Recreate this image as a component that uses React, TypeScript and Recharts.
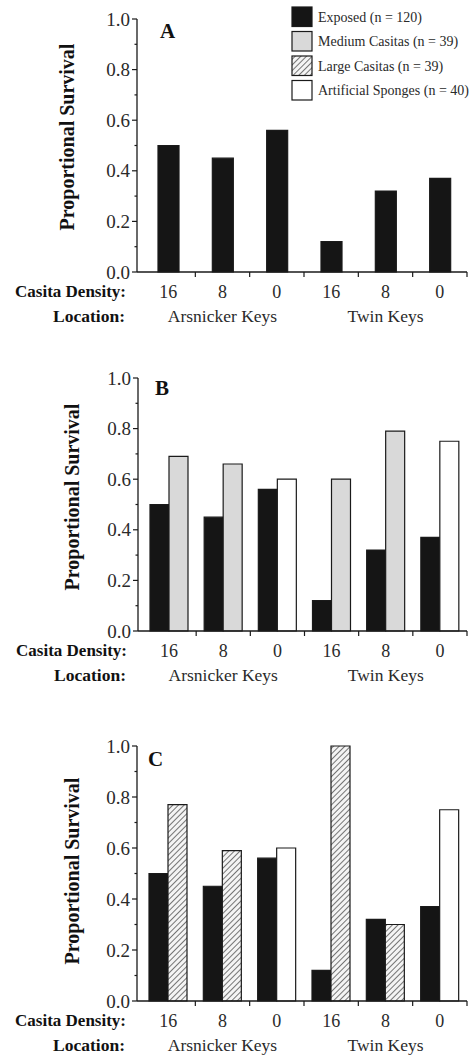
import React from 'react';
import { BarChart, Bar, XAxis, YAxis, Cell } from 'recharts';

// ---------- data ----------
const densities = ['16', '8', '0', '16', '8', '0'];
const locations = ['Arsnicker Keys', 'Arsnicker Keys', 'Arsnicker Keys', 'Twin Keys', 'Twin Keys', 'Twin Keys'];
const exposed = [0.5, 0.45, 0.56, 0.12, 0.32, 0.37];
const mediumCasitas = [0.69, 0.66, null, 0.6, 0.79, null];
const largeCasitas = [0.77, 0.59, null, 1.0, 0.3, null];
const artificialSponges = [null, null, 0.6, null, null, 0.75];
const yTicks = [0, 0.1, 0.2, 0.3, 0.4, 0.5, 0.6, 0.7, 0.8, 0.9, 1.0];
const legendLabels = ['Exposed (n = 120)', 'Medium Casitas (n = 39)', 'Large Casitas (n = 39)', 'Artificial Sponges (n = 40)'];
const legendKeys = ['exposed', 'medium', 'large', 'sponge'];

// ---------- style ----------
const FONT = "'Liberation Serif', 'DejaVu Serif', serif";
const INK = '#1a1a1a';
const FILLS: Record<string, string> = {
  exposed: '#151515',
  medium: '#d9d9d9',
  large: 'url(#hatch)',
  sponge: '#ffffff',
};
const PAD_LEFT = 4;

type Panel = {
  letter: string;
  top: number;
  height: number;
  marginTop: number;
  marginBottom: number;
  yWidth: number;
  letterX: number;
  letterY: number;
  labelX: number;
  labelY: number;
  second: (number | null)[] | null;
  legend: boolean;
};

const panels: Panel[] = [
  { letter: 'A', top: 0, height: 330, marginTop: 19, marginBottom: 8, yWidth: 137, letterX: 160, letterY: 38, labelX: 67, labelY: 137, second: null, legend: true },
  { letter: 'B', top: 330, height: 370, marginTop: 48, marginBottom: 19, yWidth: 138, letterX: 155, letterY: 65, labelX: 72, labelY: 167, second: mediumCasitas, legend: false },
  { letter: 'C', top: 700, height: 359, marginTop: 46, marginBottom: 8, yWidth: 137, letterX: 148, letterY: 66, labelX: 72, labelY: 171, second: largeCasitas, legend: false },
];

function buildData(second: (number | null)[] | null) {
  return densities.map((d, i) => {
    let treat: number | null = null;
    let kind = '';
    if (second) {
      if (second[i] != null) {
        treat = second[i];
        kind = second === mediumCasitas ? 'medium' : 'large';
      } else if (artificialSponges[i] != null) {
        treat = artificialSponges[i];
        kind = 'sponge';
      }
    }
    return { id: `${locations[i]}-${d}-${i}`, density: d, location: locations[i], exposed: exposed[i], treat, kind };
  });
}

function YTick(props: any) {
  const { x, y, payload } = props;
  const v = payload.value as number;
  const major = Math.round(v * 10) % 2 === 0;
  return (
    <g>
      <line x1={x - (major ? 5 : 2.5)} x2={x} y1={y} y2={y} stroke={INK} strokeWidth={1.2} />
      {major && (
        <text x={x - 7} y={y} dy="0.35em" textAnchor="end" fontFamily={FONT} fontSize={19} fill="#2a2a2a">
          {v.toFixed(1)}
        </text>
      )}
    </g>
  );
}

function makeXTick(band: number) {
  return function XTick(props: any) {
    const { x, y, payload } = props;
    const i = payload.index as number;
    const half = band / 2;
    const axisX = x - half - PAD_LEFT;
    const isMid = locations[i - 1] === locations[i] && locations[i + 1] === locations[i];
    return (
      <g>
        <line x1={x + half} x2={x + half} y1={y} y2={y + 5} stroke={INK} strokeWidth={1.2} />
        <text x={x} y={y + 19.5} dy="0.35em" textAnchor="middle" fontFamily={FONT} fontSize={18} fill="#2a2a2a">
          {densities[i]}
        </text>
        {isMid && (
          <text x={x} y={y + 44} dy="0.35em" textAnchor="middle" fontFamily={FONT} fontSize={17.5} fill="#2a2a2a">
            {locations[i]}
          </text>
        )}
        {i === 0 && (
          <g>
            <text x={axisX - 11} y={y + 19.5} dy="0.35em" textAnchor="end" fontFamily={FONT} fontSize={17} fontWeight="bold" fill="#111">
              Casita Density:
            </text>
            <text x={axisX - 12} y={y + 44} dy="0.35em" textAnchor="end" fontFamily={FONT} fontSize={17.5} fontWeight="bold" fill="#111">
              Location:
            </text>
          </g>
        )}
      </g>
    );
  };
}

function Decor(props: any) {
  const { cfg } = props as { cfg: Panel };
  return (
    <g>
      <text
        x={cfg.labelX}
        y={cfg.labelY}
        transform={`rotate(-90 ${cfg.labelX} ${cfg.labelY})`}
        textAnchor="middle"
        dominantBaseline="central"
        fontFamily={FONT}
        fontSize={20}
        fontWeight="bold"
        fill="#111"
      >
        Proportional Survival
      </text>
      <text x={cfg.letterX} y={cfg.letterY} fontFamily={FONT} fontSize={21} fontWeight="bold" fill="#111">
        {cfg.letter}
      </text>
      {cfg.legend &&
        legendKeys.map((k, i) => {
          const by = 7 + i * 24.5;
          return (
            <g key={k}>
              <rect x={292} y={by} width={20} height={19.5} fill={FILLS[k]} stroke={INK} strokeWidth={1.2} />
              <text x={318} y={by + 10} dy="0.35em" fontFamily={FONT} fontSize={14} fill="#2a2a2a">
                {legendLabels[i]}
              </text>
            </g>
          );
        })}
    </g>
  );
}

function PanelChart({ cfg }: { cfg: Panel }) {
  const data = buildData(cfg.second);
  const width = 473;
  const marginRight = 6;
  const plotW = width - marginRight - cfg.yWidth;
  const band = (plotW - PAD_LEFT) / densities.length;
  const XTick = makeXTick(band);
  return (
    <div style={{ position: 'absolute', left: 0, top: cfg.top, width, height: cfg.height }}>
      <BarChart
        width={width}
        height={cfg.height}
        data={data}
        margin={{ top: cfg.marginTop, right: marginRight, bottom: cfg.marginBottom, left: 0 }}
        barGap={0}
        barSize={cfg.second ? 19 : 21}
      >
        <XAxis
          dataKey="id"
          type="category"
          height={50}
          padding={{ left: PAD_LEFT, right: 0 }}
          axisLine={{ stroke: INK, strokeWidth: 1.3 }}
          tickLine={false}
          tickSize={0}
          tickMargin={0}
          interval={0}
          tick={<XTick />}
        />
        <YAxis
          type="number"
          domain={[0, 1]}
          ticks={yTicks}
          interval={0}
          width={cfg.yWidth}
          axisLine={{ stroke: INK, strokeWidth: 1.3 }}
          tickLine={false}
          tickSize={0}
          tickMargin={0}
          tick={<YTick />}
          label={<Decor cfg={cfg} />}
        />
        <Bar dataKey="exposed" fill={FILLS.exposed} stroke={INK} strokeWidth={1.2} isAnimationActive={false} />
        {cfg.second && (
          <Bar dataKey="treat" stroke={INK} strokeWidth={1.2} isAnimationActive={false}>
            {data.map((d) => (
              <Cell key={d.id} fill={FILLS[d.kind]} />
            ))}
          </Bar>
        )}
      </BarChart>
    </div>
  );
}

export default function App() {
  return (
    <div style={{ position: 'absolute', left: 0, top: 0, width: 473, height: 1059, background: '#fff', overflow: 'hidden' }}>
      <svg width={0} height={0} style={{ position: 'absolute' }}>
        <defs>
          <pattern id="hatch" patternUnits="userSpaceOnUse" width={4} height={4} patternTransform="rotate(45)">
            <rect width={4} height={4} fill="#f4f4f4" />
            <line x1={0} y1={0} x2={0} y2={4} stroke="#555" strokeWidth={1.6} />
          </pattern>
        </defs>
      </svg>
      {panels.map((p) => (
        <PanelChart key={p.letter} cfg={p} />
      ))}
    </div>
  );
}
